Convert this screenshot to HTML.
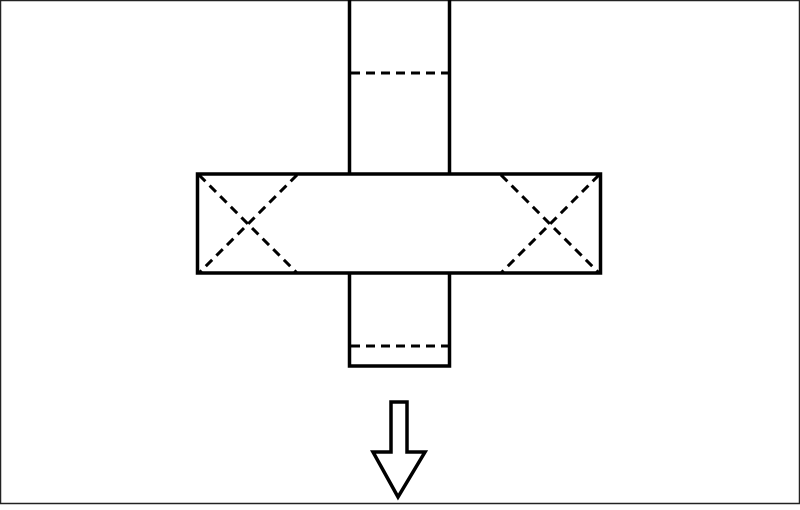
<!DOCTYPE html>
<html><head><style>html,body{margin:0;padding:0;background:#fff}</style></head>
<body>
<svg width="800" height="505" viewBox="0 0 800 505" xmlns="http://www.w3.org/2000/svg">
<rect x="0.5" y="0.5" width="799" height="503" fill="#fff" stroke="#222" stroke-width="1.5"/>
<g fill="none" stroke="#000" stroke-width="3.5">
<rect x="349.5" y="-5" width="100" height="371"/>
<rect x="197.5" y="174" width="403" height="99" fill="#fff"/>
</g>
<g stroke="#000" stroke-width="3" stroke-dasharray="9,6" fill="none">
<line x1="351" y1="73" x2="448" y2="73"/>
<line x1="351" y1="346" x2="448" y2="346"/>
<line x1="199" y1="175" x2="297" y2="273"/>
<line x1="297" y1="175" x2="199" y2="273"/>
<line x1="501" y1="175" x2="599" y2="273"/>
<line x1="599" y1="175" x2="501" y2="273"/>
</g>
<polygon points="391,402 407,402 407,452 425,452 398,497 373,452 391,452" fill="#fff" stroke="#000" stroke-width="3.5"/>
</svg>
</body></html>
